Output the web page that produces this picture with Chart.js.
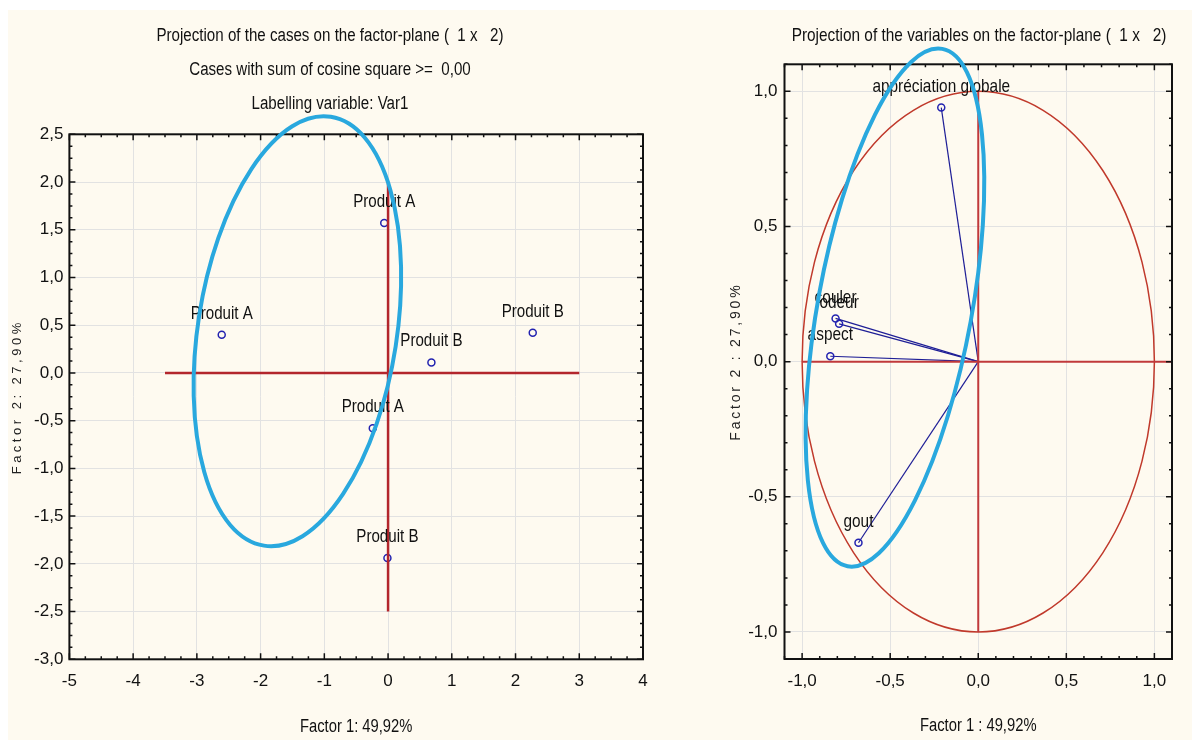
<!DOCTYPE html>
<html>
<head>
<meta charset="utf-8">
<script src="https://cdn.jsdelivr.net/npm/chart.js@4.4.1/dist/chart.umd.min.js"></script>
<style>
html,body{margin:0;padding:0;background:#fff;}
body{width:1192px;height:740px;position:relative;overflow:hidden;}
.panel{position:absolute;top:10px;height:730px;background:#fefaf0;}
#p1{left:8px;width:652px;}
#p2{left:660px;width:532px;}
</style>
</head>
<body>
<div class="panel" id="p1"><canvas id="cases"></canvas></div>
<div class="panel" id="p2"><canvas id="vars"></canvas></div>
<script>
// cases (factor plane 1 x 2)
const caseNames = ["Produit A","Produit A","Produit B","Produit B","Produit A","Produit B"];
const caseF1 = [-2.61, -0.06, 0.68, 2.27, -0.24, -0.01];
const caseF2 = [0.40, 1.57, 0.11, 0.42, -0.58, -1.94];
const caseXTicks = [-5,-4,-3,-2,-1,0,1,2,3,4];
const caseYTicks = [-3,-2.5,-2,-1.5,-1,-0.5,0,0.5,1,1.5,2,2.5];
const caseAxisH = [-3.5, 3];     // red line along y = 0
const caseAxisV = [2, -2.5];     // red line along x = 0

// variables (correlation circle)
const varNames = ["appréciation globale","couler","odeur","aspect","gout"];
const varF1 = [-0.21, -0.81, -0.79, -0.84, -0.68];
const varF2 = [0.94, 0.16, 0.14, 0.02, -0.67];
const varTicks = [-1,-0.5,0,0.5,1];
const varAxisH = [-1, 1.1];
const varAxisV = [1, -1];

// hand drawn cyan ellipses: centre + two half diameters, data units
const caseEllipse = {cx:-1.423, cy:0.437, ux:0.524, uy:2.246, vx:1.542, vy:-0.160};
const varEllipse = {cx:-0.473, cy:0.200, ux:0.269, uy:0.957, vx:0.430, vy:-0.0515};
const unitCircle = {cx:0, cy:0, ux:1, uy:0, vx:0, vy:1};

const SANS = '"Liberation Sans", Arial, sans-serif';
const RED = '#b3262c', BLUE = '#2323b0', CYAN = '#29a8de', INK = '#111';
Chart.defaults.font.family = SANS;
Chart.defaults.color = INK;

const comma = v => (Math.abs(v) < 1e-9 ? 0 : v).toFixed(1).replace('.', ',');

// the reference uses a condensed face; squeeze the regular one instead
function narrowText(ctx, t, x, y, size, k){
    ctx.save();
    ctx.font = size + 'px ' + SANS;
    ctx.fillStyle = INK;
    ctx.textAlign = 'center';
    ctx.textBaseline = 'middle';
    ctx.translate(x, y);
    ctx.scale(k, 1);
    ctx.fillText(t, 0, 0);
    ctx.restore();
}

function drawEllipse(chart, e, color, width){
    const xs = chart.scales.x, ys = chart.scales.y, ctx = chart.ctx;
    const px = xs.getPixelForValue(e.cx), py = ys.getPixelForValue(e.cy);
    const ux = xs.getPixelForValue(e.cx + e.ux) - px, uy = ys.getPixelForValue(e.cy + e.uy) - py;
    const vx = xs.getPixelForValue(e.cx + e.vx) - px, vy = ys.getPixelForValue(e.cy + e.vy) - py;
    ctx.save();
    ctx.beginPath();
    ctx.save();
    ctx.transform(ux, uy, vx, vy, px, py);
    ctx.arc(0, 0, 1, 0, Math.PI * 2);
    ctx.restore();
    ctx.strokeStyle = color;
    ctx.lineWidth = width;
    ctx.stroke();
    ctx.restore();
}

function innerTicks(ctx, scale, a, minor, major, horiz){
    const start = Math.ceil(scale.min / minor - 1e-9) * minor;
    for (let v = start; v <= scale.max + 1e-9; v += minor){
        const r = v / major, isMajor = Math.abs(r - Math.round(r)) < 1e-6;
        const len = isMajor ? 6 : 3;
        const p = scale.getPixelForValue(v);
        ctx.beginPath();
        if (horiz){
            ctx.moveTo(p, a.top); ctx.lineTo(p, a.top + len);
            ctx.moveTo(p, a.bottom); ctx.lineTo(p, a.bottom - len);
        } else {
            ctx.moveTo(a.left, p); ctx.lineTo(a.left + len, p);
            ctx.moveTo(a.right, p); ctx.lineTo(a.right - len, p);
        }
        ctx.stroke();
    }
}

const decor = {
    id: 'decor',
    beforeDatasetsDraw(chart, args, o){
        if (o.circle) drawEllipse(chart, o.circle, '#c0392b', 1.5);
    },
    afterDatasetsDraw(chart, args, o){
        chart.data.datasets.forEach((ds, i) => {
            if (!ds.pointLabels) return;
            const meta = chart.getDatasetMeta(i);
            ds.pointLabels.forEach((t, j) => {
                if (!t) return;
                const el = meta.data[j];
                narrowText(chart.ctx, t, el.x, el.y - 21, o.labelSize, o.squeeze);
            });
        });
    },
    afterDraw(chart, args, o){
        const ctx = chart.ctx, a = chart.chartArea;
        ctx.save();
        ctx.strokeStyle = '#111';
        ctx.lineWidth = 2;
        ctx.strokeRect(a.left, a.top, a.right - a.left, a.bottom - a.top);
        ctx.lineWidth = 1.5;
        innerTicks(ctx, chart.scales.x, a, o.xMinor, o.xMajor, true);
        innerTicks(ctx, chart.scales.y, a, o.yMinor, o.yMajor, false);
        ctx.restore();

        drawEllipse(chart, o.ellipse, CYAN, 4);

        // titles
        o.title.forEach((t, i) => narrowText(ctx, t, o.titleX, o.titleY + i * 34, o.titleSize, o.squeeze));
        narrowText(ctx, o.xTitle, (a.left + a.right) / 2, a.bottom + o.xTitleGap, 18, 0.82);

        ctx.save();
        ctx.translate(o.yTitleX, (a.top + a.bottom) / 2);
        ctx.rotate(-Math.PI / 2);
        ctx.font = o.yTitleFont;
        ctx.letterSpacing = o.yTitleSpacing;
        ctx.fillStyle = '#222';
        ctx.textAlign = 'center';
        ctx.textBaseline = 'middle';
        ctx.fillText(o.yTitle, 0, 0);
        ctx.restore();
    }
};

function axis(min, max, ticks, fmt, fit, pad){
    return {
        type: 'linear', min: min, max: max,
        afterBuildTicks: s => { s.ticks = ticks.map(v => ({value: v})); },
        afterFit: fit,
        grid: {color: '#e2e2e2', lineWidth: 1, drawTicks: false},
        border: {display: false},
        ticks: {font: {size: 17}, color: INK, padding: pad, callback: fmt}
    };
}

const line = (pts, color, w) => ({
    data: pts, showLine: true, borderColor: color, borderWidth: w,
    pointRadius: 0, fill: false
});

new Chart(document.getElementById('cases'), {
    type: 'scatter',
    data: {
        datasets: [
            line(caseAxisH.map(x => ({x: x, y: 0})), RED, 2.5),
            line(caseAxisV.map(y => ({x: 0, y: y})), RED, 2.5),
            {
                data: caseF1.map((x, i) => ({x: x, y: caseF2[i]})),
                pointRadius: 3.5, pointBorderWidth: 1.5,
                pointBorderColor: BLUE, pointBackgroundColor: 'rgba(0,0,0,0)',
                pointLabels: caseNames
            }
        ]
    },
    options: {
        responsive: true, maintainAspectRatio: false, animation: false,
        layout: {padding: {left: 9, right: 17, top: 124.3, bottom: 0}},
        plugins: {
            legend: {display: false}, tooltip: {enabled: false},
            decor: {
                title: ['Projection of the cases on the factor-plane (  1 x   2)',
                        'Cases with sum of cosine square >=  0,00',
                        'Labelling variable: Var1'],
                titleX: 322, titleY: 26, titleSize: 18, labelSize: 18, squeeze: 0.84,
                xTitle: 'Factor 1: 49,92%', xTitleGap: 67.4,
                ellipse: caseEllipse, xMinor: 0.25, xMajor: 1, yMinor: 0.125, yMajor: 0.5,
                yTitle: 'Factor 2: 27,90%', yTitleX: 9, yTitleFont: '13px ' + SANS,
                yTitleSpacing: '3.5px'
            }
        },
        scales: {
            x: axis(-5, 4, caseXTicks, v => String(v), s => { s.height = 80.7; }, 12),
            y: axis(-3, 2.5, caseYTicks, comma, s => { s.width = 52.4; }, 6)
        }
    },
    plugins: [decor]
});

new Chart(document.getElementById('vars'), {
    type: 'scatter',
    data: {
        datasets: [
            line(varAxisH.map(x => ({x: x, y: 0})), '#c0393b', 2),
            line(varAxisV.map(y => ({x: 0, y: y})), '#c0393b', 2),
            ...varNames.map((n, i) => ({
                data: [{x: 0, y: 0}, {x: varF1[i], y: varF2[i]}],
                showLine: true, borderColor: '#1e1e96', borderWidth: 1.2,
                pointRadius: [0, 3.5], pointBorderWidth: 1.5,
                pointBorderColor: BLUE, pointBackgroundColor: 'rgba(0,0,0,0)',
                pointLabels: [null, n]
            }))
        ]
    },
    options: {
        responsive: true, maintainAspectRatio: false, animation: false,
        layout: {padding: {left: 0, right: 20, top: 54.3, bottom: 0}},
        plugins: {
            legend: {display: false}, tooltip: {enabled: false},
            decor: {
                title: ['Projection of the variables on the factor-plane (  1 x   2)'],
                titleX: 319, titleY: 26, titleSize: 19, labelSize: 19, squeeze: 0.81,
                xTitle: 'Factor 1 : 49,92%', xTitleGap: 67,
                circle: unitCircle, ellipse: varEllipse, xMinor: 0.1, xMajor: 0.5, yMinor: 0.1, yMajor: 0.5,
                yTitle: 'Factor 2 : 27,90%', yTitleX: 76, yTitleFont: '14px ' + SANS,
                yTitleSpacing: '2.8px'
            }
        },
        scales: {
            x: axis(-1.1, 1.1, varTicks, comma, s => { s.height = 81; }, 12),
            y: axis(-1.1, 1.1, varTicks, comma, s => { s.width = 124.5; }, 7)
        }
    },
    plugins: [decor]
});
</script>
</body>
</html>
